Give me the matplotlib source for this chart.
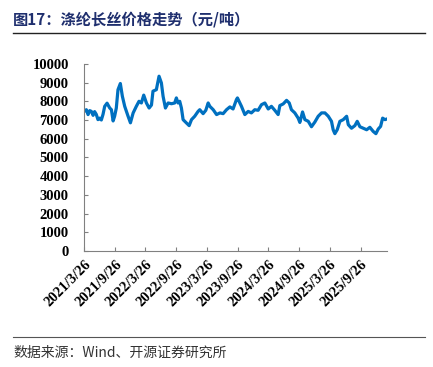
import matplotlib
matplotlib.use("Agg")
import matplotlib.pyplot as plt
import pandas as pd
from matplotlib.lines import Line2D

dates = [
    "2021-03-26", "2021-04-09", "2021-04-19", "2021-04-29", "2021-05-09", "2021-05-19", "2021-05-28",
    "2021-06-07", "2021-06-17", "2021-06-27", "2021-07-07", "2021-07-17", "2021-07-27", "2021-08-10",
    "2021-08-26", "2021-09-05", "2021-09-15", "2021-09-24", "2021-10-04", "2021-10-14", "2021-10-28",
    "2021-11-09", "2021-11-23", "2021-12-13", "2021-12-27", "2022-01-12", "2022-01-31", "2022-02-16",
    "2022-03-02", "2022-03-16", "2022-04-01", "2022-04-17", "2022-05-01", "2022-05-10", "2022-05-30",
    "2022-06-15", "2022-06-29", "2022-07-09", "2022-07-23", "2022-08-08", "2022-08-28", "2022-09-16",
    "2022-09-26", "2022-10-06", "2022-10-16", "2022-10-26", "2022-11-05", "2022-11-25", "2022-12-11",
    "2022-12-25", "2023-01-13", "2023-02-02", "2023-02-12", "2023-03-04", "2023-03-20", "2023-04-03",
    "2023-04-13", "2023-05-03", "2023-05-23", "2023-06-12", "2023-07-01", "2023-07-21", "2023-08-10",
    "2023-08-29", "2023-09-18", "2023-09-24", "2023-10-18", "2023-11-07", "2023-11-27", "2023-12-16",
    "2024-01-05", "2024-01-25", "2024-02-14", "2024-03-05", "2024-03-25", "2024-04-13", "2024-05-03",
    "2024-05-23", "2024-06-02", "2024-06-22", "2024-07-12", "2024-07-28", "2024-08-10", "2024-08-30",
    "2024-09-19", "2024-09-29", "2024-10-15", "2024-10-29", "2024-11-18", "2024-12-07", "2024-12-27",
    "2025-01-16", "2025-02-05", "2025-02-25", "2025-03-17", "2025-04-05", "2025-04-15", "2025-04-25",
    "2025-05-09", "2025-05-25", "2025-06-14", "2025-07-04", "2025-07-14", "2025-08-02", "2025-08-22",
    "2025-09-05", "2025-09-21", "2025-10-11", "2025-10-31", "2025-11-19", "2025-12-09", "2025-12-25",
    "2026-01-08", "2026-01-22", "2026-02-03", "2026-02-17", "2026-02-27",
]
prices = [
    7450, 7550, 7290, 7500, 7460, 7250, 7450,
    7300, 7020, 7100, 7000, 7300, 7730, 7900,
    7640, 7550, 6950, 7200, 7640, 8620, 8950,
    8270, 7730, 7200, 6850, 7375, 7730, 8000,
    7910, 8330, 7910, 7640, 7800, 8540, 8620,
    9340, 8980, 8270, 7640, 7910, 7870, 7910,
    8180, 7910, 8000, 7640, 7020, 6840, 6700,
    7020, 7200, 7460, 7550, 7340, 7520, 7910,
    7730, 7550, 7290, 7380, 7340, 7550, 7700,
    7590, 8090, 8180, 7730, 7290, 7460, 7380,
    7550, 7520, 7820, 7910, 7590, 7730, 7520,
    7290, 7770, 7860, 8050, 7910, 7550, 7380,
    7100, 6870, 7430, 7020, 6930, 6640, 6890,
    7200, 7380, 7380, 7200, 6930, 6480, 6270,
    6480, 6930, 7020, 7200, 6750, 6560, 6700,
    6930, 6640, 6560, 6480, 6610, 6390, 6270,
    6520, 6660, 7100, 7020, 7050,
]
tick_dates = ["2021-03-26", "2021-09-26", "2022-03-26", "2022-09-26", "2023-03-26",
              "2023-09-26", "2024-03-26", "2024-09-26", "2025-03-26", "2025-09-26"]
tick_labels = ["2021/3/26", "2021/9/26", "2022/3/26", "2022/9/26", "2023/3/26",
               "2023/9/26", "2024/3/26", "2024/9/26", "2025/3/26", "2025/9/26"]
y_ticks = [0, 1000, 2000, 3000, 4000, 5000, 6000, 7000, 8000, 9000, 10000]

title = "图17：涤纶长丝价格走势（元/吨）"
source = "数据来源：Wind、开源证券研究所"

x = pd.to_datetime(dates)
xt = pd.to_datetime(tick_dates)

fig = plt.figure(figsize=(4.33, 3.67), dpi=100)
ax = fig.add_axes([0.194, 0.316, 0.699, 0.510])
ax.plot(x, prices, color="#0070C0", linewidth=2.3, solid_joinstyle="round")
ax.set_xlim(x[0], x[-1])
ax.set_ylim(0, 10000)
ax.set_yticks(y_ticks)
ax.set_yticklabels([str(v) for v in y_ticks], fontfamily="Liberation Serif",
                   fontweight="bold", fontsize=10.5)
ax.set_xticks(xt)
ax.set_xticklabels(tick_labels, rotation=45, ha="right", va="top",
                   rotation_mode="anchor", fontfamily="Liberation Serif",
                   fontweight="bold", fontsize=10.5)
for s in ["top", "right"]:
    ax.spines[s].set_visible(False)
for s in ["left", "bottom"]:
    ax.spines[s].set_color("#808080")
    ax.spines[s].set_linewidth(0.8)
ax.tick_params(axis="both", direction="in", length=3, width=0.8, color="#808080")
ax.tick_params(axis="y", pad=11)
ax.tick_params(axis="x", pad=5)

fig.text(0.03, 0.948, title, fontfamily=["Noto Sans CJK SC", "DejaVu Sans"],
         fontweight="bold", fontsize=11, color="#1F2F6E", ha="left", va="center")
fig.add_artist(Line2D([0.03, 0.982], [0.91, 0.91], color="#222222", linewidth=1.0))
fig.add_artist(Line2D([0.03, 0.982], [0.082, 0.082], color="#555555", linewidth=0.8))
fig.text(0.03, 0.04, source, fontfamily=["Noto Sans CJK SC", "DejaVu Sans"],
         fontsize=10, color="#333333", ha="left", va="center")

fig.savefig("out.png", dpi=100)
